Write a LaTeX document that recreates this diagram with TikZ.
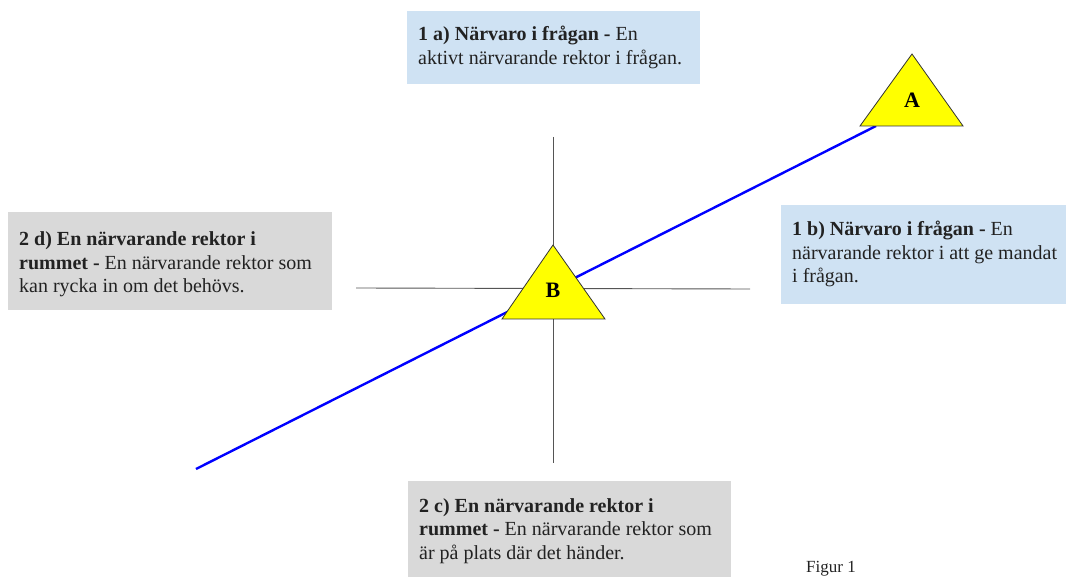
\documentclass[tikz,border=0pt]{standalone}
\usepackage{fontspec}
\setmainfont{Liberation Serif}
\definecolor{boxblue}{HTML}{CFE2F3}
\definecolor{boxgray}{HTML}{D9D9D9}
\definecolor{txt}{HTML}{222222}
\definecolor{tri}{HTML}{FFFF00}
\definecolor{linegray}{HTML}{555555}
\tikzset{
  infobox/.style={anchor=base west, align=left, inner sep=0pt, text=txt,
    font=\fontsize{20}{23.5}\selectfont},
  trishape/.style={fill=tri, draw=black!80, line width=0.8pt, line join=miter},
  crossline/.style={draw=linegray, line width=0.9pt},
  axis/.style={draw=blue, line width=2.4pt},
  trilabel/.style={font=\fontsize{22}{24}\selectfont\bfseries, text=black, inner sep=0pt}
}
\begin{document}
\begin{tikzpicture}[x=1pt,y=-1pt]
\useasboundingbox (0,0) rectangle (1066,577);
% boxes
\fill[boxblue] (407,11) rectangle (700,84);
\fill[boxgray] (8,212) rectangle (332,310);
\fill[boxblue] (781,205) rectangle (1066,304);
\fill[boxgray] (408,481) rectangle (731,577);
% (anchor base west of a multi-line node = baseline of its last line)
\node[infobox] (t1a) at (418,64.5) {\textbf{1 a) Närvaro i frågan -} En\\aktivt närvarande rektor i frågan.};
\node[infobox] (t2d) at (19,293) {\textbf{2 d) En närvarande rektor i}\\\textbf{rummet -} En närvarande rektor som\\kan rycka in om det behövs.};
\node[infobox] (t1b) at (792,283) {\textbf{1 b) Närvaro i frågan -} En\\närvarande rektor i att ge mandat\\i frågan.};
\node[infobox] (t2c) at (419,559) {\textbf{2 c) En närvarande rektor i}\\\textbf{rummet -} En närvarande rektor som\\är på plats där det händer.};
\node[anchor=base west, inner sep=0pt, text=txt, font=\fontsize{17}{19}\selectfont] (fig) at (806,572.5) {Figur 1};
% cross
\coordinate (ctop) at (553,137);
\coordinate (cbot) at (553,463);
\coordinate (cleft) at (356,288);
\coordinate (cright) at (750,289);
\draw[crossline] (ctop) -- (cbot);
\draw[crossline] (cleft) -- (cright);
% blue axis
\coordinate (ax0) at (196,469);
\coordinate (ax1) at (876,126);
\draw[axis] (ax0) -- (ax1);
% triangles
\draw[trishape] (553,245) -- (605,319) -- (502,319) -- cycle;
\node[trilabel] (B) at (553,290) {B};
\draw[trishape] (912,54) -- (963,126) -- (860,126) -- cycle;
\node[trilabel] (A) at (912,100) {A};
\end{tikzpicture}
\end{document}
